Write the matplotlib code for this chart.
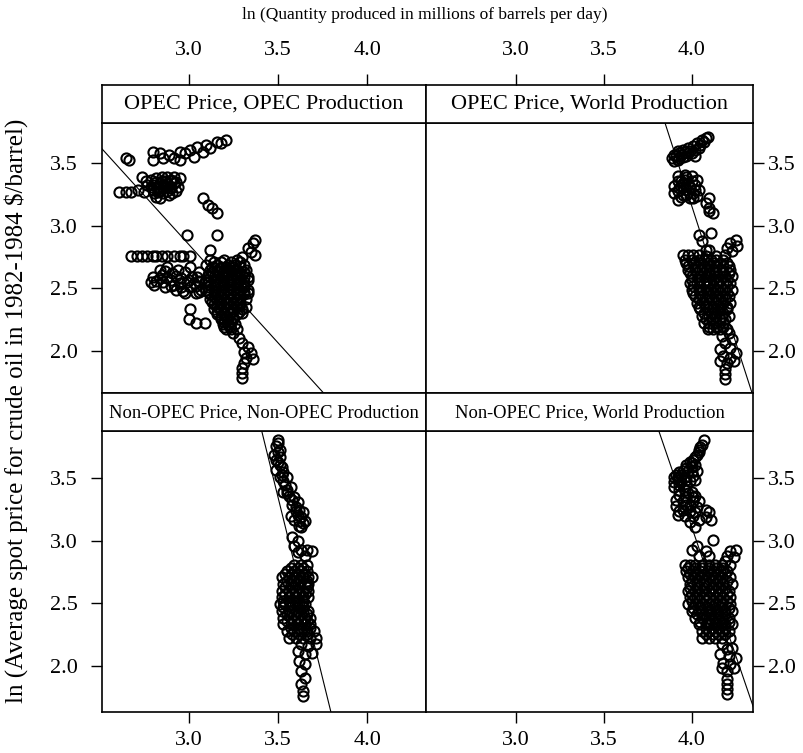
import matplotlib
matplotlib.use("Agg")
import matplotlib.pyplot as plt

plt.rcParams['font.family'] = ['Liberation Serif', 'DejaVu Serif']

W, H = 804, 753

# ln(quantity), ln(price), one list per panel
opec_opec = [
    (2.65, 3.54), (2.67, 3.53),
    (2.80, 3.59), (2.80, 3.53), (2.84, 3.58), (2.86, 3.54), (2.89, 3.57), (2.92, 3.54),
    (2.95, 3.59), (2.95, 3.53), (2.98, 3.58), (3.01, 3.61), (3.03, 3.55), (3.05, 3.63),
    (3.08, 3.59), (3.10, 3.65), (3.12, 3.62), (3.16, 3.67), (3.18, 3.66), (3.21, 3.69),
    (2.61, 3.27), (2.65, 3.27), (2.68, 3.27), (2.72, 3.29), (2.75, 3.27), (2.74, 3.39),
    (2.79, 3.37), (2.82, 3.38), (2.85, 3.39), (2.88, 3.39), (2.92, 3.39), (2.95, 3.38),
    (2.77, 3.33), (2.80, 3.33), (2.84, 3.34), (2.88, 3.34), (2.92, 3.34), (2.80, 3.29),
    (2.83, 3.27), (2.86, 3.26), (2.89, 3.25), (2.91, 3.26), (2.84, 3.22), (2.94, 3.31),
    (2.82, 3.23), (2.90, 3.30), (2.86, 3.30), (2.87, 3.36), (2.90, 3.37), (2.83, 3.31),
    (2.76, 3.36), (2.79, 3.31), (2.82, 3.35), (2.85, 3.36), (2.88, 3.31), (2.91, 3.36),
    (2.93, 3.35), (2.86, 3.33), (2.84, 3.28), (2.88, 3.28), (2.81, 3.26), (2.93, 3.28),
    (3.08, 3.22), (3.11, 3.17), (3.13, 3.14), (3.16, 3.10), (2.99, 2.93), (3.16, 2.93),
    (3.12, 2.81),
    (2.68, 2.76), (2.71, 2.76), (2.74, 2.76), (2.77, 2.76), (2.80, 2.76), (2.82, 2.76),
    (2.85, 2.76), (2.88, 2.76), (2.92, 2.76), (2.95, 2.76), (2.97, 2.76), (3.01, 2.76),
    (2.79, 2.55), (2.81, 2.53), (2.84, 2.58), (2.87, 2.51), (2.90, 2.57), (2.93, 2.49),
    (2.95, 2.54), (2.98, 2.46), (3.01, 2.51), (3.04, 2.46), (3.07, 2.49), (2.84, 2.65),
    (2.88, 2.67), (2.94, 2.65), (2.98, 2.63), (3.01, 2.67), (3.05, 2.59), (2.80, 2.59),
    (3.09, 2.55), (2.96, 2.58), (2.91, 2.62), (3.00, 2.57), (2.86, 2.55), (2.92, 2.53),
    (3.03, 2.54), (3.06, 2.63),
    (2.82, 2.56), (2.85, 2.61), (2.88, 2.58), (2.90, 2.52), (2.93, 2.60), (2.96, 2.51),
    (2.99, 2.55), (3.02, 2.59), (3.04, 2.52), (3.06, 2.56), (2.87, 2.64), (2.97, 2.48),
    (3.06, 2.47),
    (3.01, 2.33), (3.00, 2.25), (3.04, 2.22), (3.09, 2.22),
    (3.30, 2.75), (3.33, 2.82), (3.36, 2.86), (3.37, 2.89), (3.35, 2.79), (3.37, 2.77),
    (3.33, 2.59), (3.33, 2.46), (3.32, 2.35), (3.30, 2.30),
    (3.27, 2.17), (3.25, 2.14), (3.28, 2.10), (3.30, 2.06), (3.33, 2.03), (3.31, 1.99),
    (3.35, 1.98), (3.32, 1.94), (3.36, 1.93), (3.31, 1.90), (3.30, 1.86), (3.30, 1.82),
    (3.30, 1.78),
]

# the dense black patch around (3.2, 2.5)
opec_opec_core = [
    (3.12, 2.73), (3.20, 2.73), (3.27, 2.73),
    (3.14, 2.71), (3.18, 2.71), (3.24, 2.71), (3.29, 2.71),
    (3.10, 2.69), (3.16, 2.69), (3.22, 2.69), (3.26, 2.69), (3.31, 2.69),
    (3.13, 2.67), (3.18, 2.67), (3.21, 2.67), (3.25, 2.67), (3.29, 2.67),
    (3.12, 2.65), (3.16, 2.65), (3.20, 2.65), (3.23, 2.65), (3.27, 2.65), (3.32, 2.65),
    (3.13, 2.63), (3.17, 2.63), (3.21, 2.63), (3.24, 2.63), (3.28, 2.63), (3.31, 2.63),
    (3.11, 2.61), (3.15, 2.61), (3.19, 2.61), (3.22, 2.61), (3.26, 2.61), (3.30, 2.61),
    (3.12, 2.59), (3.16, 2.59), (3.20, 2.59), (3.24, 2.59), (3.27, 2.59), (3.31, 2.59),
    (3.10, 2.57), (3.14, 2.57), (3.18, 2.57), (3.22, 2.57), (3.25, 2.57), (3.29, 2.57), (3.33, 2.57),
    (3.11, 2.55), (3.15, 2.55), (3.19, 2.55), (3.23, 2.55), (3.27, 2.55), (3.31, 2.55),
    (3.12, 2.53), (3.16, 2.53), (3.20, 2.53), (3.23, 2.53), (3.27, 2.53), (3.31, 2.53),
    (3.11, 2.51), (3.15, 2.51), (3.19, 2.51), (3.23, 2.51), (3.27, 2.51), (3.31, 2.51),
    (3.10, 2.49), (3.14, 2.49), (3.18, 2.49), (3.22, 2.49), (3.25, 2.49), (3.29, 2.49), (3.33, 2.49),
    (3.11, 2.47), (3.15, 2.47), (3.19, 2.47), (3.23, 2.47), (3.27, 2.47), (3.31, 2.47),
    (3.12, 2.45), (3.16, 2.45), (3.20, 2.45), (3.23, 2.45), (3.27, 2.45), (3.31, 2.45),
    (3.14, 2.43), (3.18, 2.43), (3.22, 2.43), (3.25, 2.43), (3.29, 2.43),
    (3.12, 2.41), (3.16, 2.41), (3.20, 2.41), (3.23, 2.41), (3.27, 2.41), (3.32, 2.41),
    (3.13, 2.39), (3.17, 2.39), (3.21, 2.39), (3.25, 2.39), (3.29, 2.39),
    (3.14, 2.37), (3.18, 2.37), (3.22, 2.37), (3.25, 2.37), (3.29, 2.37),
    (3.16, 2.35), (3.20, 2.35), (3.23, 2.35), (3.27, 2.35),
    (3.14, 2.33), (3.18, 2.33), (3.22, 2.33), (3.25, 2.33), (3.30, 2.33),
    (3.16, 2.31), (3.20, 2.31), (3.24, 2.31), (3.28, 2.31),
    (3.16, 2.29), (3.20, 2.29), (3.23, 2.29), (3.27, 2.29),
    (3.18, 2.27), (3.21, 2.27), (3.25, 2.27),
    (3.18, 2.25), (3.22, 2.25), (3.25, 2.25),
    (3.20, 2.23), (3.24, 2.23),
    (3.19, 2.21), (3.22, 2.21), (3.26, 2.21),
    (3.20, 2.19), (3.23, 2.19),
    (3.21, 2.17), (3.24, 2.17),
]

opec_world = [
    (3.90, 3.57), (3.92, 3.60), (3.95, 3.61), (3.98, 3.62), (4.01, 3.64), (4.03, 3.66),
    (4.06, 3.69), (4.09, 3.71), (3.93, 3.54), (3.97, 3.56), (4.00, 3.58), (4.04, 3.62),
    (3.90, 3.52), (3.89, 3.54), (4.02, 3.56), (3.94, 3.57),
    (3.91, 3.56), (3.93, 3.58), (3.96, 3.59), (3.99, 3.60), (4.02, 3.61), (4.05, 3.65),
    (4.07, 3.67), (4.08, 3.70), (3.92, 3.53), (3.95, 3.55), (3.98, 3.58),
    (3.92, 3.40), (3.96, 3.41), (4.00, 3.40), (4.03, 3.37), (3.94, 3.36), (3.98, 3.34),
    (4.02, 3.33), (4.04, 3.29), (3.90, 3.32), (3.93, 3.30), (3.97, 3.29), (4.01, 3.26),
    (3.90, 3.26), (3.95, 3.25), (3.99, 3.22), (4.03, 3.24), (3.92, 3.21),
    (3.92, 3.36), (3.96, 3.37), (4.00, 3.36), (3.92, 3.28), (3.95, 3.31), (3.99, 3.31),
    (4.02, 3.29), (3.97, 3.25), (4.01, 3.22), (3.94, 3.23), (3.97, 3.39), (3.95, 3.34),
    (4.10, 3.22), (4.08, 3.18), (4.10, 3.14), (4.12, 3.10), (4.10, 3.12),
    (4.04, 2.93), (4.11, 2.94), (4.10, 2.81), (4.06, 2.88), (4.08, 2.81),
    (4.25, 2.89), (4.22, 2.86), (4.20, 2.82), (4.23, 2.80), (4.19, 2.77), (4.26, 2.84),
    (3.95, 2.77), (3.98, 2.77), (4.01, 2.77), (4.04, 2.77), (4.08, 2.76), (4.11, 2.73),
    (4.14, 2.76),
    (4.17, 2.12), (4.21, 2.14), (4.23, 2.09), (4.19, 2.06), (4.16, 2.01), (4.22, 2.02),
    (4.25, 1.98), (4.18, 1.96), (4.22, 1.94), (4.16, 1.92), (4.20, 1.90), (4.24, 1.92),
    (4.19, 1.85), (4.19, 1.81), (4.19, 1.77),
]

opec_world_core = [
    (3.96, 2.73), (4.00, 2.73), (4.04, 2.73), (4.07, 2.73), (4.14, 2.73), (4.18, 2.73),
    (3.97, 2.70), (4.01, 2.70), (4.05, 2.70), (4.09, 2.70), (4.12, 2.70), (4.16, 2.70), (4.20, 2.70),
    (3.98, 2.68), (4.03, 2.68), (4.07, 2.68), (4.10, 2.68), (4.14, 2.68), (4.18, 2.68), (4.21, 2.68),
    (3.98, 2.65), (4.02, 2.65), (4.06, 2.65), (4.10, 2.65), (4.13, 2.65), (4.17, 2.65), (4.22, 2.65),
    (3.99, 2.62), (4.03, 2.62), (4.07, 2.62), (4.10, 2.62), (4.14, 2.62), (4.18, 2.62), (4.21, 2.62),
    (4.00, 2.60), (4.04, 2.60), (4.08, 2.60), (4.11, 2.60), (4.15, 2.60), (4.19, 2.60), (4.23, 2.60),
    (4.00, 2.57), (4.04, 2.57), (4.08, 2.57), (4.12, 2.57), (4.16, 2.57), (4.20, 2.57),
    (3.99, 2.54), (4.03, 2.54), (4.07, 2.54), (4.10, 2.54), (4.14, 2.54), (4.18, 2.54), (4.22, 2.54),
    (4.01, 2.52), (4.05, 2.52), (4.09, 2.52), (4.12, 2.52), (4.16, 2.52), (4.20, 2.52),
    (4.00, 2.49), (4.04, 2.49), (4.08, 2.49), (4.11, 2.49), (4.15, 2.49), (4.19, 2.49), (4.23, 2.49),
    (4.01, 2.46), (4.05, 2.46), (4.09, 2.46), (4.12, 2.46), (4.16, 2.46), (4.20, 2.46),
    (4.02, 2.44), (4.06, 2.44), (4.10, 2.44), (4.13, 2.44), (4.17, 2.44), (4.21, 2.44),
    (4.04, 2.41), (4.08, 2.41), (4.11, 2.41), (4.15, 2.41), (4.19, 2.41),
    (4.03, 2.38), (4.07, 2.38), (4.10, 2.38), (4.14, 2.38), (4.18, 2.38), (4.22, 2.38),
    (4.04, 2.35), (4.08, 2.35), (4.12, 2.35), (4.16, 2.35), (4.20, 2.35),
    (4.05, 2.33), (4.09, 2.33), (4.12, 2.33), (4.16, 2.33), (4.20, 2.33),
    (4.07, 2.30), (4.11, 2.30), (4.14, 2.30), (4.18, 2.30),
    (4.06, 2.28), (4.10, 2.28), (4.13, 2.28), (4.17, 2.28), (4.21, 2.28),
    (4.08, 2.25), (4.12, 2.25), (4.16, 2.25), (4.19, 2.25),
    (4.07, 2.22), (4.10, 2.22), (4.14, 2.22), (4.18, 2.22),
    (4.10, 2.19), (4.14, 2.19), (4.18, 2.19),
    (4.09, 2.17), (4.12, 2.17), (4.16, 2.17), (4.20, 2.17),
]

non_non = [
    (3.50, 3.81), (3.49, 3.76), (3.51, 3.73), (3.48, 3.69), (3.51, 3.67), (3.50, 3.63),
    (3.52, 3.59), (3.49, 3.57), (3.53, 3.55), (3.55, 3.51), (3.51, 3.51),
    (3.50, 3.78), (3.50, 3.71), (3.49, 3.65), (3.51, 3.61), (3.52, 3.53), (3.53, 3.48),
    (3.54, 3.45), (3.57, 3.43), (3.53, 3.39), (3.56, 3.36), (3.59, 3.35), (3.61, 3.31),
    (3.55, 3.41), (3.55, 3.38), (3.58, 3.33), (3.60, 3.27), (3.61, 3.21), (3.62, 3.16),
    (3.58, 3.29), (3.62, 3.25), (3.64, 3.23), (3.60, 3.24), (3.63, 3.19), (3.57, 3.20),
    (3.65, 3.16), (3.62, 3.12), (3.59, 3.17), (3.63, 3.11), (3.64, 3.14),
    (3.58, 3.03), (3.61, 3.00), (3.59, 2.96), (3.63, 2.93), (3.66, 2.93), (3.69, 2.92),
    (3.61, 2.91), (3.65, 2.88),
    (3.63, 2.17), (3.67, 2.16), (3.71, 2.17), (3.61, 2.12), (3.65, 2.09), (3.69, 2.10),
    (3.62, 2.04), (3.65, 2.01), (3.63, 1.96), (3.65, 1.90), (3.63, 1.85), (3.64, 1.80),
    (3.64, 1.76),
]

non_non_core = [
    (3.59, 2.81), (3.63, 2.81), (3.66, 2.81),
    (3.57, 2.78), (3.61, 2.78), (3.64, 2.78),
    (3.55, 2.76), (3.59, 2.76), (3.63, 2.76), (3.66, 2.76),
    (3.54, 2.73), (3.58, 2.73), (3.62, 2.73), (3.65, 2.73),
    (3.52, 2.71), (3.56, 2.71), (3.60, 2.71), (3.64, 2.71), (3.67, 2.71), (3.69, 2.71),
    (3.55, 2.68), (3.59, 2.68), (3.63, 2.68), (3.66, 2.68),
    (3.53, 2.65), (3.57, 2.65), (3.61, 2.65), (3.65, 2.65), (3.67, 2.65),
    (3.54, 2.63), (3.58, 2.63), (3.62, 2.63), (3.66, 2.63),
    (3.52, 2.60), (3.56, 2.60), (3.60, 2.60), (3.64, 2.60), (3.67, 2.60),
    (3.54, 2.57), (3.58, 2.57), (3.62, 2.57), (3.65, 2.57),
    (3.52, 2.55), (3.56, 2.55), (3.60, 2.55), (3.64, 2.55), (3.67, 2.55),
    (3.53, 2.52), (3.56, 2.52), (3.60, 2.52), (3.64, 2.52),
    (3.51, 2.49), (3.54, 2.49), (3.58, 2.49), (3.62, 2.49), (3.65, 2.49),
    (3.53, 2.47), (3.57, 2.47), (3.61, 2.47), (3.64, 2.47),
    (3.52, 2.44), (3.56, 2.44), (3.60, 2.44), (3.64, 2.44), (3.67, 2.44),
    (3.55, 2.41), (3.59, 2.41), (3.63, 2.41), (3.66, 2.41),
    (3.53, 2.38), (3.57, 2.38), (3.61, 2.38), (3.65, 2.38), (3.68, 2.38),
    (3.55, 2.36), (3.59, 2.36), (3.63, 2.36), (3.66, 2.36),
    (3.53, 2.33), (3.57, 2.33), (3.61, 2.33), (3.65, 2.33), (3.68, 2.33),
    (3.57, 2.30), (3.61, 2.30), (3.64, 2.30), (3.68, 2.30),
    (3.55, 2.28), (3.59, 2.28), (3.63, 2.28), (3.66, 2.28), (3.70, 2.28),
    (3.58, 2.25), (3.62, 2.25), (3.66, 2.25),
    (3.56, 2.22), (3.60, 2.22), (3.64, 2.22), (3.68, 2.22), (3.71, 2.22),
]

non_world = [
    (4.07, 3.81), (4.06, 3.77), (4.04, 3.73), (4.03, 3.69), (4.01, 3.65), (3.99, 3.63),
    (3.97, 3.61), (4.02, 3.61), (4.00, 3.59), (3.98, 3.56), (3.95, 3.56), (3.93, 3.55),
    (3.91, 3.53), (3.90, 3.51), (3.92, 3.49), (3.96, 3.51), (4.01, 3.52), (4.03, 3.56),
    (3.90, 3.47), (3.94, 3.47), (3.99, 3.48), (4.02, 3.49),
    (4.05, 3.75), (4.04, 3.71), (4.02, 3.67), (4.00, 3.62), (3.97, 3.58), (3.94, 3.53),
    (3.92, 3.51), (3.97, 3.49), (4.00, 3.55), (3.93, 3.45), (3.97, 3.44),
    (3.90, 3.43), (3.96, 3.41), (4.00, 3.39), (4.02, 3.36), (3.93, 3.37), (3.97, 3.35),
    (4.01, 3.32), (4.04, 3.32), (3.91, 3.28), (3.95, 3.25), (3.99, 3.24), (4.03, 3.27),
    (3.92, 3.21), (3.96, 3.20), (4.01, 3.20), (4.08, 3.25), (4.10, 3.23), (4.11, 3.17),
    (4.08, 3.19), (3.99, 3.15), (4.02, 3.11), (4.04, 3.17),
    (3.93, 3.41), (3.98, 3.38), (3.95, 3.32), (3.99, 3.29), (3.93, 3.24), (4.02, 3.23),
    (3.97, 3.29), (4.01, 3.35), (3.91, 3.33),
    (4.12, 3.01), (4.03, 2.96), (4.00, 2.93), (4.08, 2.92), (4.10, 2.88), (4.04, 2.88),
    (4.25, 2.93), (4.22, 2.92), (4.20, 2.88), (4.24, 2.87), (4.19, 2.84), (4.22, 2.81),
    (4.17, 2.17), (4.20, 2.13), (4.23, 2.14), (4.16, 2.09), (4.21, 2.08), (4.25, 2.06),
    (4.18, 2.02), (4.22, 2.01), (4.17, 1.98), (4.20, 1.96), (4.24, 1.98), (4.20, 1.89),
    (4.20, 1.85), (4.20, 1.81), (4.20, 1.77),
]

non_world_core = [
    (3.96, 2.81), (3.99, 2.81), (4.02, 2.81), (4.06, 2.81), (4.10, 2.81), (4.13, 2.81), (4.17, 2.81),
    (3.98, 2.78), (4.02, 2.78), (4.06, 2.78), (4.10, 2.78), (4.14, 2.78), (4.18, 2.78),
    (3.97, 2.76), (4.01, 2.76), (4.05, 2.76), (4.09, 2.76), (4.12, 2.76), (4.16, 2.76), (4.20, 2.76),
    (3.99, 2.73), (4.03, 2.73), (4.07, 2.73), (4.11, 2.73), (4.15, 2.73), (4.19, 2.73),
    (3.98, 2.71), (4.02, 2.71), (4.06, 2.71), (4.10, 2.71), (4.13, 2.71), (4.17, 2.71), (4.22, 2.71),
    (4.00, 2.68), (4.04, 2.68), (4.08, 2.68), (4.12, 2.68), (4.16, 2.68), (4.20, 2.68),
    (3.99, 2.65), (4.03, 2.65), (4.07, 2.65), (4.10, 2.65), (4.14, 2.65), (4.18, 2.65), (4.23, 2.65),
    (3.99, 2.62), (4.03, 2.62), (4.07, 2.62), (4.11, 2.62), (4.15, 2.62), (4.19, 2.62),
    (3.98, 2.60), (4.02, 2.60), (4.06, 2.60), (4.10, 2.60), (4.13, 2.60), (4.17, 2.60), (4.21, 2.60),
    (4.00, 2.57), (4.04, 2.57), (4.08, 2.57), (4.12, 2.57), (4.16, 2.57), (4.20, 2.57),
    (3.99, 2.55), (4.03, 2.55), (4.07, 2.55), (4.10, 2.55), (4.14, 2.55), (4.18, 2.55), (4.22, 2.55),
    (4.00, 2.52), (4.04, 2.52), (4.08, 2.52), (4.12, 2.52), (4.16, 2.52), (4.20, 2.52),
    (3.98, 2.49), (4.02, 2.49), (4.06, 2.49), (4.10, 2.49), (4.13, 2.49), (4.17, 2.49), (4.22, 2.49),
    (4.01, 2.46), (4.05, 2.46), (4.09, 2.46), (4.13, 2.46), (4.17, 2.46), (4.21, 2.46),
    (4.00, 2.44), (4.04, 2.44), (4.08, 2.44), (4.11, 2.44), (4.15, 2.44), (4.19, 2.44), (4.23, 2.44),
    (4.03, 2.41), (4.07, 2.41), (4.11, 2.41), (4.15, 2.41), (4.19, 2.41),
    (4.02, 2.38), (4.06, 2.38), (4.10, 2.38), (4.13, 2.38), (4.17, 2.38), (4.21, 2.38),
    (4.05, 2.35), (4.09, 2.35), (4.13, 2.35), (4.17, 2.35), (4.21, 2.35),
    (4.04, 2.33), (4.08, 2.33), (4.11, 2.33), (4.15, 2.33), (4.19, 2.33), (4.23, 2.33),
    (4.08, 2.30), (4.12, 2.30), (4.15, 2.30), (4.19, 2.30),
    (4.06, 2.28), (4.10, 2.28), (4.13, 2.28), (4.17, 2.28), (4.21, 2.28),
    (4.08, 2.25), (4.12, 2.25), (4.15, 2.25), (4.19, 2.25),
    (4.06, 2.22), (4.10, 2.22), (4.13, 2.22), (4.17, 2.22), (4.22, 2.22),
]

# fitted lines (intercept, slope)
fits = [(7.59, -1.579), (20.60, -4.36), (23.72, -5.82), (19.53, -4.105)]

titles = ["OPEC Price, OPEC Production", "OPEC Price, World Production",
          "Non-OPEC Price, Non-OPEC Production", "Non-OPEC Price, World Production"]
series = [opec_opec + opec_opec_core, opec_world + opec_world_core,
          non_non + non_non_core, non_world + non_world_core]
xticks = [3.0, 3.5, 4.0]
yticks = [2.0, 2.5, 3.0, 3.5]

# panel boxes in pixels: left, top, right, bottom, strip top
boxes = [(101.7, 123, 426, 393.3, 85), (426, 123, 753.5, 393.3, 85),
         (101.7, 431, 426, 712, 393.3), (426, 431, 753.5, 712, 393.3)]
xlims = [(2.515, 4.327), (2.486, 4.352), (2.515, 4.327), (2.486, 4.352)]
ylims = [(1.659, 3.823), (1.659, 3.823), (1.629, 3.879), (1.629, 3.879)]
strip_size = [16, 16, 13.3, 13.3]


def rect(l, t, r, b):
    return [l / W, 1 - b / H, (r - l) / W, (b - t) / H]


fig = plt.figure(figsize=(W / 100, H / 100), dpi=100)

for i in range(4):
    l, t, r, b, st = boxes[i]
    ax = fig.add_axes(rect(l, t, r, b))
    xs = [p[0] for p in series[i]]
    ys = [p[1] for p in series[i]]
    ax.plot(xs, ys, 'o', ms=7.3, mfc='none', mec='black', mew=1.5)
    a, s = fits[i]
    x0, x1 = xlims[i]
    ax.plot([x0, x1], [a + s * x0, a + s * x1], color='black', lw=0.8)
    ax.set_xlim(xlims[i])
    ax.set_ylim(ylims[i])
    for sp in ax.spines.values():
        sp.set_linewidth(1.2)
    ax.set_yticks(yticks)
    ax.set_yticklabels([f"{v:.1f}" for v in yticks])
    left = (i % 2 == 0)
    ax.tick_params(axis='y', length=8, width=1, labelsize=16,
                   pad=(9.5 if left else 2.5),
                   left=left, labelleft=left, right=not left, labelright=not left)
    if i >= 2:
        ax.set_xticks(xticks)
        ax.set_xticklabels([f"{v:.1f}" for v in xticks])
        ax.tick_params(axis='x', length=8, width=1, labelsize=16, pad=6)
    else:
        ax.set_xticks([])

    sax = fig.add_axes(rect(l, st, r, t))
    sax.set_xlim(xlims[i])
    sax.set_yticks([])
    for sp in sax.spines.values():
        sp.set_linewidth(1.2)
    if i < 2:
        sax.set_xticks(xticks)
        sax.set_xticklabels([f"{v:.1f}" for v in xticks])
        sax.tick_params(axis='x', top=True, labeltop=True, bottom=False,
                        labelbottom=False, length=8, width=1, labelsize=16, pad=10)
    else:
        sax.set_xticks([])
    sax.text(0.5, 0.5, titles[i], transform=sax.transAxes, ha='center',
             va='center', fontsize=strip_size[i])

fig.text(425 / W, 1 - 15 / H, "ln (Quantity produced in millions of barrels per day)",
         ha='center', va='center', fontsize=12.5)
fig.text(16 / W, 1 - 411 / H, "ln (Average spot price for crude oil in 1982-1984 $/barrel)",
         ha='center', va='center', rotation=90, fontsize=18)

fig.savefig("out.png", dpi=100)
